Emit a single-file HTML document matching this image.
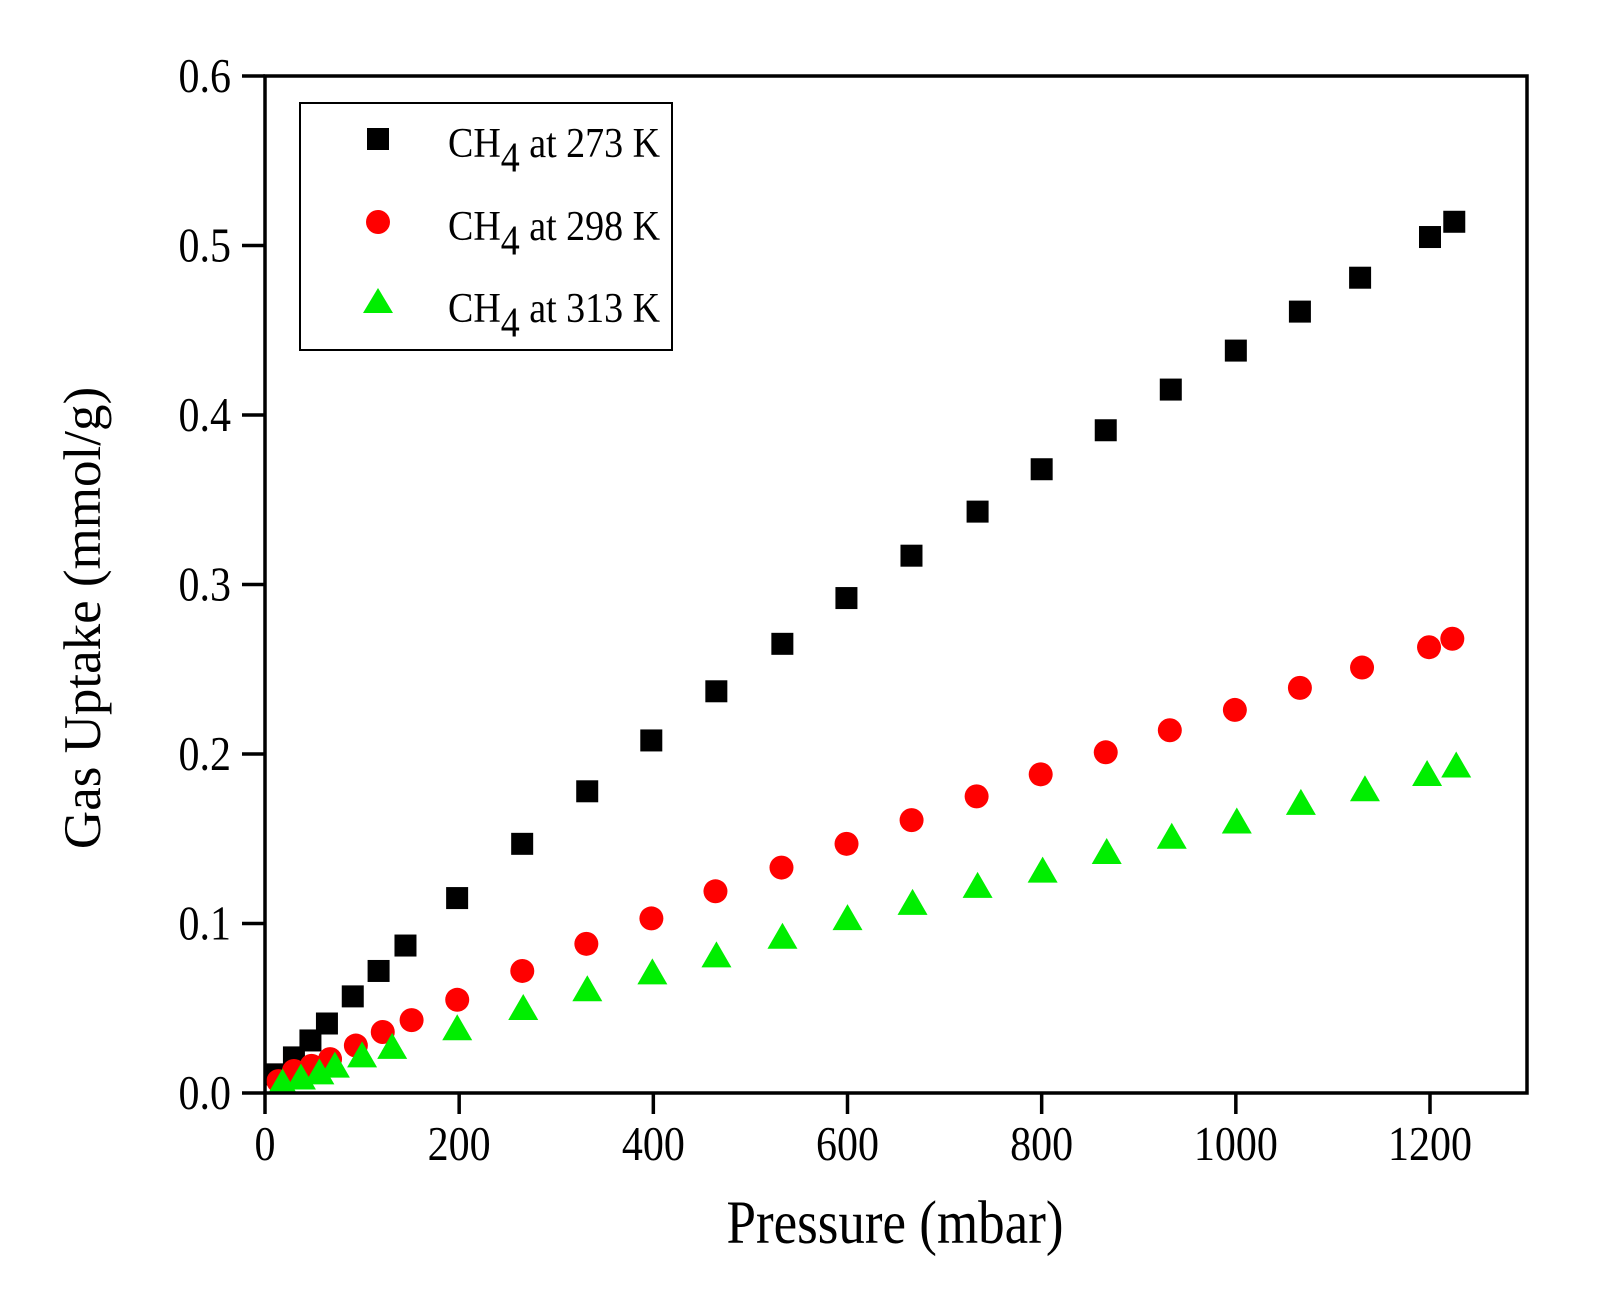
<!DOCTYPE html>
<html><head><meta charset="utf-8"><style>
html,body{margin:0;padding:0;background:#fff;}
svg{display:block;font-family:"Liberation Serif","Times New Roman",serif;}
</style></head><body>
<svg id="chart" width="1617" height="1314" viewBox="0 0 1617 1314" xmlns="http://www.w3.org/2000/svg">
<rect width="1617" height="1314" fill="#fff"/>
<g id="marks"></g>
<rect x="265" y="76" width="1262" height="1017" fill="none" stroke="#000" stroke-width="3.5"/>
<g id="axes"></g>
<text transform="translate(895,1243) scale(1,1.15)" font-size="53" text-anchor="middle">Pressure (mbar)</text>
<text transform="translate(100,618) rotate(-90)" font-size="53" text-anchor="middle">Gas Uptake (mmol/g)</text>
<g>
<rect x="300" y="103" width="372" height="247" fill="#fff" stroke="#000" stroke-width="2"/>
<rect x="367" y="128" width="22" height="22" fill="#000"/>
<circle cx="378" cy="222" r="12" fill="#ff0000"/>
<polygon points="363,313 393,313 378,288" fill="#00ee00"/>
<text transform="translate(448,157) scale(1,1.12)" font-size="38">CH<tspan dy="13">4</tspan><tspan dy="-13"> at 273 K</tspan></text>
<text transform="translate(448,240) scale(1,1.12)" font-size="38">CH<tspan dy="13">4</tspan><tspan dy="-13"> at 298 K</tspan></text>
<text transform="translate(448,322) scale(1,1.12)" font-size="38">CH<tspan dy="13">4</tspan><tspan dy="-13"> at 313 K</tspan></text>
</g>
</svg>
<script>
const xTicks=[0,200,400,600,800,1000,1200];
const yTicks=[0,0.1,0.2,0.3,0.4,0.5,0.6];
const yTickLabels=["0.0","0.1","0.2","0.3","0.4","0.5","0.6"];
const x273=[11.7,29.8,46.8,63.8,90.4,117,144.7,197.9,264.9,331.9,397.9,464.9,532.9,598.9,665.9,734,800,866,933,1000,1066,1128,1200,1225];
const y273=[0.011,0.021,0.031,0.041,0.057,0.072,0.087,0.115,0.147,0.178,0.208,0.237,0.265,0.292,0.317,0.343,0.368,0.391,0.415,0.438,0.461,0.481,0.505,0.514];
const x298=[13.8,29.8,47.9,67,93.6,121.3,151,198,265,331,398,464,532,599,666,733,799,866,932,999,1066,1130,1199,1223];
const y298=[0.007,0.013,0.016,0.020,0.028,0.036,0.043,0.055,0.072,0.088,0.103,0.119,0.133,0.147,0.161,0.175,0.188,0.201,0.214,0.226,0.239,0.251,0.263,0.268];
const x313=[18,37,56,72,100,131,198,266,332,399,465,533,600,667,734,801,867,934,1001,1067,1133,1197,1227];
const y313=[0.005,0.008,0.011,0.015,0.021,0.026,0.037,0.049,0.060,0.070,0.080,0.091,0.102,0.111,0.121,0.130,0.141,0.150,0.159,0.170,0.178,0.187,0.192];

const NS="http://www.w3.org/2000/svg";
function sx(v){return 265+v*(1430-265)/1200;}
function sy(v){return 1093-v*(1093-76)/0.6;}
function mk(tag,attrs,parent){const e=document.createElementNS(NS,tag);for(const k in attrs)e.setAttribute(k,attrs[k]);parent.appendChild(e);return e;}
const axes=document.getElementById('axes');
const marks=document.getElementById('marks');
xTicks.forEach(t=>{
  const l=mk('line',{x1:sx(t),x2:sx(t),y1:1093,y2:1114,stroke:'#000','stroke-width':3.5},axes);
  
  
  const tx=mk('text',{transform:`translate(${sx(t)},1160) scale(1,1.15)`,'font-size':42,'text-anchor':'middle'},axes);
  tx.textContent=t;
  
  
});
yTicks.forEach((t,i)=>{
  const l=mk('line',{x1:242,x2:265,y1:sy(t),y2:sy(t),stroke:'#000','stroke-width':3.5},axes);
  
  
  const tx=mk('text',{transform:`translate(231,${sy(t)+16}) scale(1,1.15)`,'font-size':42,'text-anchor':'end'},axes);
  tx.textContent=yTickLabels[i];
  
  
});
x273.forEach((v,i)=>{
  const r=mk('rect',{x:sx(v)-11,y:sy(y273[i])-11,width:22,height:22,fill:'#000'},marks);
  
  
});
x298.forEach((v,i)=>{
  const c=mk('circle',{cx:sx(v),cy:sy(y298[i]),r:12,fill:'#ff0000'},marks);
  
  
});
x313.forEach((v,i)=>{
  const cx=sx(v),cy=sy(y313[i]);
  const p=mk('polygon',{points:`${cx-15},${cy+10} ${cx+15},${cy+10} ${cx},${cy-16}`,fill:'#00ee00'},marks);
  
  
});
</script>
</body></html>
